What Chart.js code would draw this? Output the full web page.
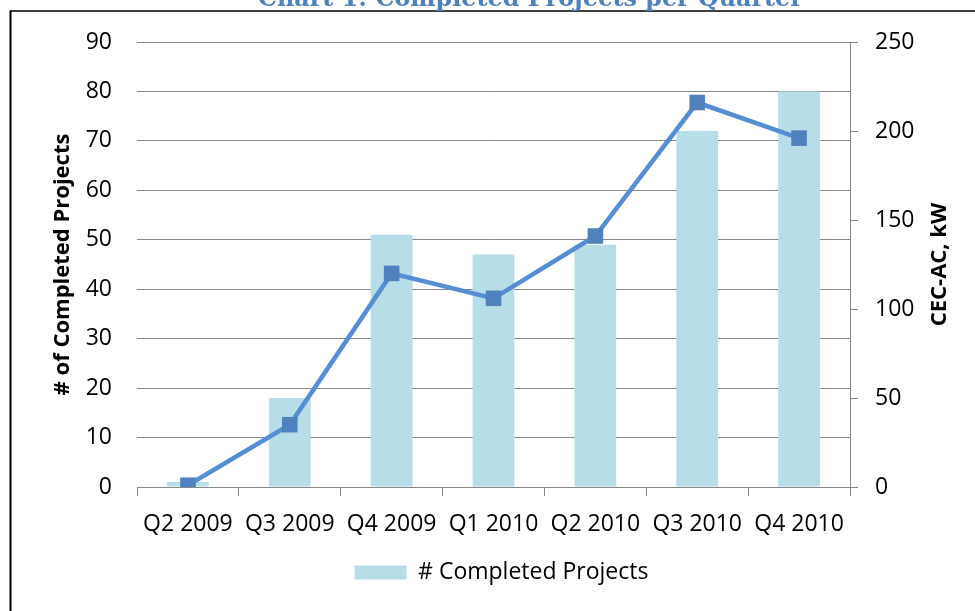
<!DOCTYPE html>
<html>
<head>
<meta charset="utf-8">
<title>Chart 1: Completed Projects per Quarter</title>
<script src="https://cdn.jsdelivr.net/npm/chart.js@4.4.1/dist/chart.umd.min.js"></script>
<style>
  html, body { margin: 0; padding: 0; background: #fff; }
  #chartWrap { position: relative; width: 975px; height: 611px; }
</style>
</head>
<body>
<div id="chartWrap"><canvas id="projectsChart" width="975" height="611"></canvas></div>
<script>
// data
const chartTitle = 'Chart 1: Completed Projects per Quarter';
const rightAxisTitle = 'CEC-AC, kW';
const quarters = ['Q2 2009', 'Q3 2009', 'Q4 2009', 'Q1 2010', 'Q2 2010', 'Q3 2010', 'Q4 2010'];
const completedProjects = [1, 18, 51, 47, 49, 72, 80];
const cecAcKw = [1, 35, 120, 106, 141, 216, 196];
const projectTicks = [0, 10, 20, 30, 40, 50, 60, 70, 80, 90];
const kwTicks = [0, 50, 100, 150, 200, 250];

const gridGray = '#878787';
const tickFont = { family: 'Open Sans', size: 23 };
const axisTitleFont = { family: 'Open Sans', size: 22, weight: 'bold' };

// frame lines, the clipped title above the plot and the right axis title
// (excel turns that one bottom-to-top, chart.js turns it the other way)
const framePlugin = {
  id: 'frame',
  afterDraw(chart) {
    const ctx = chart.ctx;
    ctx.save();
    ctx.strokeStyle = '#000';
    ctx.lineWidth = 1.5;
    ctx.beginPath();
    ctx.moveTo(10, 11);
    ctx.lineTo(975, 11);
    ctx.stroke();
    ctx.lineWidth = 2;
    ctx.beginPath();
    ctx.moveTo(10.5, 10.5);
    ctx.lineTo(10.5, 611);
    ctx.stroke();

    let size = 22;
    ctx.font = 'bold ' + size + 'px "DejaVu Serif"';
    size = size * 545 / ctx.measureText(chartTitle).width;
    ctx.font = 'bold ' + size + 'px "DejaVu Serif"';
    ctx.fillStyle = '#4F81BD';
    ctx.textAlign = 'left';
    ctx.textBaseline = 'alphabetic';
    ctx.fillText(chartTitle, 258, 5.5);

    const area = chart.chartArea;
    ctx.translate(940, (area.top + area.bottom) / 2);
    ctx.rotate(-Math.PI / 2);
    ctx.font = 'bold 22px "Open Sans"';
    ctx.fillStyle = '#000';
    ctx.textAlign = 'center';
    ctx.textBaseline = 'middle';
    ctx.fillText(rightAxisTitle, 0, 0);
    ctx.restore();
  }
};

var ctx = document.getElementById('projectsChart').getContext('2d');

const chartData = {
  labels: quarters,
  datasets: [{
    type: 'line',
    label: 'CEC-AC, kW',
    data: cecAcKw,
    yAxisID: 'y1',
    borderColor: '#558ED5',
    borderWidth: 4.5,
    backgroundColor: '#4F81BD',
    pointStyle: 'rect',
    pointRadius: 11,
    pointHoverRadius: 11,
    pointBorderWidth: 0,
    pointBackgroundColor: '#4F81BD',
    tension: 0,
    order: 0
  }, {
    type: 'bar',
    label: '# Completed Projects',
    data: completedProjects,
    yAxisID: 'y',
    backgroundColor: '#B7DDE8',
    borderWidth: 0,
    barPercentage: 0.41,
    categoryPercentage: 1,
    order: 1
  }]
};

var projectsChart = new Chart(ctx, {
  type: 'bar',
  data: chartData,
  plugins: [framePlugin],
  options: {
    responsive: false,
    animation: false,
    devicePixelRatio: 1,
    layout: {
      padding: { top: 42, left: 46, right: 18, bottom: 17 }
    },
    plugins: {
      legend: {
        position: 'bottom',
        labels: {
          color: '#000',
          font: tickFont,
          boxWidth: 52,
          boxHeight: 14,
          padding: 10,
          filter: item => item.text === '# Completed Projects'
        }
      },
      tooltip: { enabled: false }
    },
    scales: {
      x: {
        offset: true,
        grid: {
          offset: true,
          drawOnChartArea: false,
          drawTicks: true,
          tickLength: 9,
          color: gridGray
        },
        border: { display: true, color: gridGray, width: 1 },
        ticks: { color: '#000', font: tickFont, padding: 15, maxRotation: 0 },
        afterFit: axis => { axis.height = 64; }
      },
      y: {
        position: 'left',
        min: 0,
        max: 90,
        afterBuildTicks: axis => { axis.ticks = projectTicks.map(v => ({ value: v })); },
        grid: { color: gridGray, drawTicks: false },
        border: { display: false },
        ticks: { color: '#000', font: tickFont, padding: 25 },
        title: { display: true, text: '# of Completed Projects', color: '#000', font: axisTitleFont },
        afterFit: axis => { axis.width = 91; }
      },
      y1: {
        position: 'right',
        min: 0,
        max: 250,
        afterBuildTicks: axis => { axis.ticks = kwTicks.map(v => ({ value: v })); },
        grid: { drawOnChartArea: false, drawTicks: true, tickLength: 8, color: gridGray },
        border: { display: true, color: gridGray, width: 1 },
        ticks: { color: '#000', font: tickFont, padding: 17 },
        afterFit: axis => { axis.width = 107; }
      }
    }
  }
});
</script>
</body>
</html>
